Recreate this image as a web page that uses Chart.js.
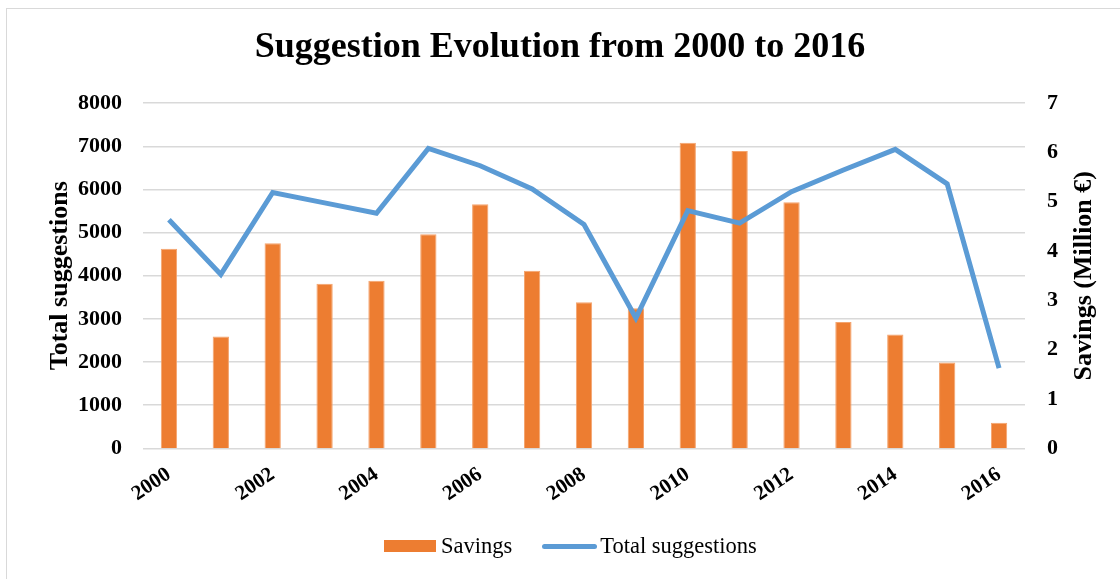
<!DOCTYPE html>
<html>
<head>
<meta charset="utf-8">
<title>Suggestion Evolution from 2000 to 2016</title>
<script src="https://cdn.jsdelivr.net/npm/chart.js@4.4.1/dist/chart.umd.min.js"></script>
<style>
    html, body {
        margin: 0;
        padding: 0;
        background: #fff;
        overflow: hidden;
    }
    #wrap {
        position: relative;
        width: 1120px;
        height: 579px;
    }
    #frame {
        position: absolute;
        left: 6px;
        top: 8px;
        width: 1130px;
        height: 590px;
        border: 1.5px solid #d9d9d9;
        box-sizing: border-box;
    }
    #chart {
        position: absolute;
        left: 0;
        top: 0;
    }
    #legend {
        position: absolute;
        left: 384px;
        top: 533px;
        display: flex;
        align-items: center;
        font-family: "Liberation Serif", serif;
        font-size: 22.5px;
        color: #000;
    }
    .swatch-bar {
        width: 52px;
        height: 12px;
        background: #ED7D31;
        margin-right: 5px;
    }
    .swatch-line {
        width: 55px;
        height: 5px;
        border-radius: 3px;
        background: #5B9BD5;
        margin-left: 30px;
        margin-right: 3px;
    }
</style>
</head>
<body>
<div id="wrap">
    <div id="frame"></div>
    <canvas id="chart" width="1120" height="579"></canvas>
    <div id="legend">
        <span class="swatch-bar"></span><span>Savings</span>
        <span class="swatch-line"></span><span>Total suggestions</span>
    </div>
</div>

<script>
// Years on the x axis
const years = ['2000', '2001', '2002', '2003', '2004', '2005', '2006', '2007', '2008',
               '2009', '2010', '2011', '2012', '2013', '2014', '2015', '2016'];

// Savings per year (million €), right axis
const savings = [4.05, 2.27, 4.16, 3.34, 3.40, 4.34, 4.95, 3.60, 2.96,
                 2.84, 6.20, 6.03, 4.99, 2.56, 2.31, 1.74, 0.52];

// Total suggestions per year, left axis
const totalSuggestions = [5300, 4030, 5930, 5690, 5450, 6950, 6550, 6010, 5190,
                          3020, 5510, 5220, 5950, 6450, 6930, 6130, 1860];

// Axis ranges
const suggestionTicks = { min: 0, max: 8000, step: 1000 };
const savingsTicks = { min: 0, max: 7, step: 1 };

const SERIF = '"Liberation Serif", serif';

// Right axis title reads bottom-to-top, so draw it by hand
const rightTitlePlugin = {
    id: 'rightTitle',
    afterDraw(chart) {
        const area = chart.chartArea;
        const ctx = chart.ctx;
        ctx.save();
        ctx.translate(1084, (area.top + area.bottom) / 2);
        ctx.rotate(-Math.PI / 2);
        ctx.font = 'bold 26px ' + SERIF;
        ctx.fillStyle = '#000';
        ctx.textAlign = 'center';
        ctx.textBaseline = 'middle';
        ctx.fillText('Savings (Million €)', 0, 0);
        ctx.restore();
    }
};

function initChart() {
    const ctx = document.getElementById('chart');

    new Chart(ctx, {
        type: 'bar',
        data: {
            labels: years,
            datasets: [
                {
                    type: 'line',
                    label: 'Total suggestions',
                    data: totalSuggestions,
                    yAxisID: 'y',
                    borderColor: '#5B9BD5',
                    backgroundColor: '#5B9BD5',
                    borderWidth: 5,
                    pointRadius: 0,
                    tension: 0,
                    borderJoinStyle: 'miter',
                    order: 0
                },
                {
                    type: 'bar',
                    label: 'Savings',
                    data: savings,
                    yAxisID: 'y1',
                    backgroundColor: '#ED7D31',
                    borderColor: '#F4A46E',
                    borderWidth: 1,
                    categoryPercentage: 1,
                    barPercentage: 0.314,
                    order: 1
                }
            ]
        },
        options: {
            responsive: false,
            animation: false,
            layout: {
                padding: 0
            },
            scales: {
                x: {
                    offset: true,
                    grid: { display: false },
                    border: { display: false },
                    ticks: {
                        autoSkip: false,
                        maxRotation: 34,
                        minRotation: 34,
                        padding: 6,
                        color: '#000',
                        font: { family: SERIF, size: 21, weight: 'bold' },
                        callback: function(value, index) {
                            return index % 2 === 0 ? years[index] : '';
                        }
                    },
                    afterFit(scale) {
                        scale.height = 130.7;
                    }
                },
                y: {
                    position: 'left',
                    min: suggestionTicks.min,
                    max: suggestionTicks.max,
                    ticks: {
                        stepSize: suggestionTicks.step,
                        padding: 21,
                        color: '#000',
                        font: { family: SERIF, size: 22, weight: 'bold' },
                        callback: value => String(value)
                    },
                    grid: {
                        color: '#d9d9d9',
                        lineWidth: 1.5,
                        drawTicks: false
                    },
                    border: { display: false },
                    title: {
                        display: true,
                        text: 'Total suggestions',
                        color: '#000',
                        font: { family: SERIF, size: 26, weight: 'bold' },
                        padding: { top: 45, bottom: 0 }
                    },
                    afterFit(scale) {
                        scale.width = 143;
                    }
                },
                y1: {
                    position: 'right',
                    min: savingsTicks.min,
                    max: savingsTicks.max,
                    ticks: {
                        stepSize: savingsTicks.step,
                        padding: 22,
                        color: '#000',
                        font: { family: SERIF, size: 22, weight: 'bold' },
                        callback: value => String(value)
                    },
                    grid: { display: false, drawTicks: false },
                    border: { display: false },
                    afterFit(scale) {
                        scale.width = 95;
                    }
                }
            },
            plugins: {
                legend: { display: false },
                tooltip: { enabled: false },
                title: {
                    display: true,
                    text: 'Suggestion Evolution from 2000 to 2016',
                    color: '#000',
                    font: { family: SERIF, size: 36, weight: 'bold', lineHeight: 1.2 },
                    padding: { top: 26, bottom: 34 }
                }
            }
        },
        plugins: [rightTitlePlugin]
    });
}

initChart();
</script>
</body>
</html>
